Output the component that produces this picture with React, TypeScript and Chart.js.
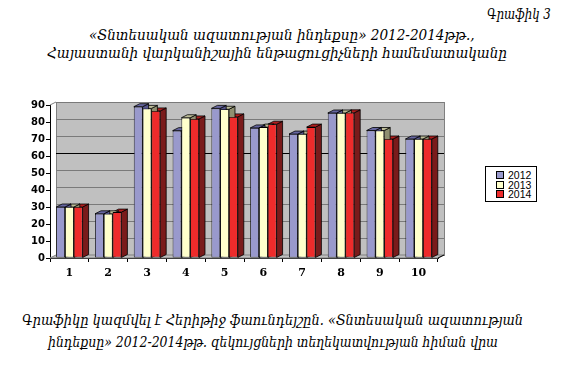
import React, { useEffect, useRef } from "react";
import { Chart, registerables } from "chart.js";

Chart.register(...registerables);

const categories = ["1", "2", "3", "4", "5", "6", "7", "8", "9", "10"];
const seriesNames = ["2012", "2013", "2014"];
const values2012 = [30, 26, 89, 74.9, 88, 76.5, 72.9, 85.3, 75, 70];
const values2013 = [30, 26, 88, 82.5, 87.5, 77, 72.9, 85.3, 75, 70];
const values2014 = [30, 27, 86.5, 81.8, 83, 78.7, 77, 85.4, 70, 70];
const yTicks = [0, 10, 20, 30, 40, 50, 60, 70, 80, 90];

const figureLabel = "Գրաֆիկ 3";
const titleLines = [
  "«Տնտեսական ազատության ինդեքսը» 2012-2014թթ.,",
  "Հայաստանի վարկանիշային ենթացուցիչների համեմատականը",
];
const sourceLines = [
  "Գրաֆիկը կազմվել է Հերիթիջ ֆաունդեյշըն. «Տնտեսական ազատության",
  "ինդեքսը» 2012-2014թթ. զեկույցների տեղեկատվության հիման վրա",
];

const frontColors = ["#9999CC", "#FFFFCC", "#EE2B2B"];
const topColors = ["#6666A0", "#BDBD98", "#B01E1E"];
const sideColors = ["#55558A", "#8F8F70", "#7A1B1B"];

const DX = 6;
const DY = -3;

const threeD = {
  id: "threeD",
  beforeDatasetsDraw(chart: any) {
    const ctx = chart.ctx;
    const { left: L, right: R, top: T, bottom: B } = chart.chartArea;
    const y = chart.scales.y;
    ctx.save();
    ctx.fillStyle = "#C0C0C0";
    ctx.fillRect(L + DX, T + DY, R - L, B - T);
    ctx.strokeStyle = "#808080";
    ctx.lineWidth = 1;
    ctx.strokeRect(L + DX + 0.5, T + DY + 0.5, R - L, B - T);
    yTicks.forEach((v) => {
      const py = Math.round(y.getPixelForValue(v) + DY) + 0.5;
      ctx.beginPath();
      ctx.strokeStyle = v === 60 ? "#000000" : "#7A7A7A";
      ctx.lineWidth = v === 60 ? 1.2 : 1.1;
      ctx.moveTo(L + DX, py);
      ctx.lineTo(R + DX, py);
      ctx.stroke();
    });
    ctx.strokeStyle = "#808080";
    ctx.lineWidth = 1;
    ctx.beginPath();
    ctx.moveTo(L, T);
    ctx.lineTo(L + DX, T + DY);
    ctx.stroke();
    ctx.beginPath();
    ctx.moveTo(L, B);
    ctx.lineTo(R, B);
    ctx.lineTo(R + DX, B + DY);
    ctx.lineTo(L + DX, B + DY);
    ctx.closePath();
    ctx.fillStyle = "#C0C0C0";
    ctx.fill();
    ctx.strokeStyle = "#808080";
    ctx.stroke();
    ctx.beginPath();
    ctx.strokeStyle = "#000";
    ctx.moveTo(R, B);
    ctx.lineTo(R + DX, B + DY);
    ctx.stroke();

    const metas = [0, 1, 2].map((i) => chart.getDatasetMeta(i));
    const n = categories.length;
    ctx.lineWidth = 0.8;
    ctx.strokeStyle = "#000";
    for (let c = n - 1; c >= 0; c--) {
      for (let d = 2; d >= 0; d--) {
        const el: any = metas[d].data[c];
        if (!el) continue;
        const { x, y: top, base, width } = el.getProps(["x", "y", "base", "width"], true);
        const xl = x - width / 2;
        const xr = x + width / 2;
        ctx.beginPath();
        ctx.moveTo(xr, top);
        ctx.lineTo(xr + DX, top + DY);
        ctx.lineTo(xr + DX, base + DY);
        ctx.lineTo(xr, base);
        ctx.closePath();
        ctx.fillStyle = sideColors[d];
        ctx.fill();
        ctx.stroke();
        ctx.beginPath();
        ctx.moveTo(xl, top);
        ctx.lineTo(xl + DX, top + DY);
        ctx.lineTo(xr + DX, top + DY);
        ctx.lineTo(xr, top);
        ctx.closePath();
        ctx.fillStyle = topColors[d];
        ctx.fill();
        ctx.stroke();
      }
    }
    ctx.restore();
  },
};

// text boxes: text, left, top, horizontal scale
const textBoxes: [string, number, number, number][] = [
  [figureLabel, 487, 5, 0.84],
  [titleLines[0], 89, 26, 0.97],
  [titleLines[1], 47, 44, 0.97],
  [sourceLines[0], 22, 311, 0.93],
  [sourceLines[1], 48, 333, 0.89],
];

export default function App() {
  const ref = useRef<HTMLCanvasElement | null>(null);

  useEffect(() => {
    document.body.style.margin = "0";
    const chart = new Chart(ref.current as HTMLCanvasElement, {
      type: "bar",
      data: {
        labels: categories,
        datasets: [values2012, values2013, values2014].map((vals, i) => ({
          label: seriesNames[i],
          data: vals,
          backgroundColor: frontColors[i],
          borderColor: "#000",
          borderWidth: 0.8,
          borderSkipped: false,
          categoryPercentage: 0.68,
          barPercentage: 1.0,
        })),
      },
      options: {
        animation: false,
        responsive: false,
        maintainAspectRatio: false,
        layout: { padding: { left: 0, top: 105, right: 129, bottom: 80 } },
        plugins: { legend: { display: false }, tooltip: { enabled: false } },
        scales: {
          x: {
            afterFit: (s: any) => {
              s.height = 30;
            },
            grid: {
              display: true,
              drawOnChartArea: false,
              drawTicks: true,
              tickLength: 4,
              color: "#000",
              offset: true,
            },
            border: { display: true, color: "#000", width: 1 },
            ticks: {
              color: "#000",
              padding: 5,
              font: { family: "'DejaVu Serif', serif", size: 11, weight: "bold" },
            },
          },
          y: {
            min: 0,
            max: 90,
            afterFit: (s: any) => {
              s.width = 50;
            },
            afterBuildTicks: (s: any) => {
              s.ticks = yTicks.map((v) => ({ value: v }));
            },
            grid: {
              display: true,
              drawOnChartArea: false,
              drawTicks: true,
              tickLength: 4,
              color: "#000",
            },
            border: { display: true, color: "#000", width: 1 },
            ticks: {
              color: "#000",
              padding: 1,
              font: { family: "'DejaVu Sans', sans-serif", size: 10, weight: "bold" },
            },
          },
        },
      },
      plugins: [threeD],
    });
    return () => chart.destroy();
  }, []);

  const legendRow = (i: number) => (
    <div
      key={i}
      style={{
        position: "absolute",
        left: 10,
        top: 3 + i * 9.5,
        height: 10,
        display: "flex",
        alignItems: "center",
      }}
    >
      <div
        style={{
          width: 6,
          height: 6,
          background: frontColors[i],
          border: "1px solid #000",
          marginRight: 4,
        }}
      />
      <span style={{ fontFamily: "'Liberation Sans', sans-serif", fontSize: 10.5, lineHeight: "10px" }}>
        {seriesNames[i]}
      </span>
    </div>
  );

  return (
    <div style={{ position: "relative", width: 567, height: 368, background: "#fff", overflow: "hidden" }}>
      {textBoxes.map(([txt, left, top, sx], i) => (
        <div
          key={i}
          style={{
            position: "absolute",
            left,
            top,
            fontSize: 14,
            lineHeight: "18px",
            whiteSpace: "nowrap",
            fontFamily: "'DejaVu Serif', serif",
            fontStyle: "italic",
            color: "#000",
            transformOrigin: "0 0",
            transform: `scaleX(${sx})`,
          }}
        >
          {txt}
        </div>
      ))}
      <canvas ref={ref} width={567} height={368} style={{ position: "absolute", left: 0, top: 0 }} />
      <div
        style={{
          position: "absolute",
          left: 485,
          top: 166,
          width: 52,
          height: 36,
          border: "1px solid #000",
          background: "#fff",
          boxSizing: "border-box",
        }}
      >
        {[0, 1, 2].map(legendRow)}
      </div>
    </div>
  );
}
